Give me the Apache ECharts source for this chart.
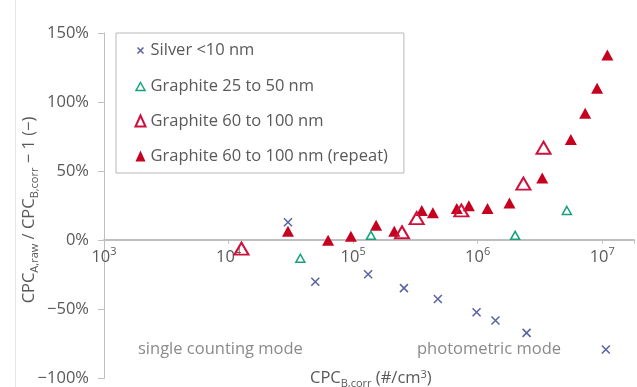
<!DOCTYPE html>
<html>
<head>
<meta charset="utf-8">
<script src="https://cdn.jsdelivr.net/npm/echarts@6/dist/echarts.min.js"></script>
<style>
  html, body { margin: 0; padding: 0; background: #fff; }
  #chart { width: 637px; height: 387px; }
</style>
</head>
<body>
<div id="chart"></div>
<script>
// Concentration measured by CPC B (#/cm3) and relative deviation of CPC A (%)
const silverX = [3.0e4, 4.97e4, 1.32e5, 2.56e5, 4.79e5, 9.8e5, 1.39e6, 2.47e6, 1.07e7];
const silverY = [13, -30, -24.5, -34.6, -42.5, -52, -58, -67, -79];

const g2550X = [3.77e4, 1.39e5, 2.0e6, 5.2e6];
const g2550Y = [-13, 3.6, 3.6, 21.6];

const g60100X = [1.27e4, 2.47e5, 3.24e5, 7.4e5, 2.33e6, 3.38e6];
const g60100Y = [-6, 5.8, 16, 21.6, 41, 67];

const g60100rX = [3.0e4, 6.3e4, 9.6e4, 1.53e5, 2.14e5, 3.56e5, 4.37e5, 6.8e5, 8.5e5, 1.2e6, 1.8e6, 3.3e6, 5.6e6, 7.3e6, 9.1e6, 1.1e7];
const g60100rY = [6.5, 0, 3, 10.8, 6.5, 21.6, 20, 23, 25, 23, 27, 45, 73, 92, 110, 134];

const seriesNames = ['Silver <10 nm', 'Graphite 25 to 50 nm', 'Graphite 60 to 100 nm', 'Graphite 60 to 100 nm (repeat)'];
const yTicks = [-100, -50, 0, 50, 100, 150];

const FONT = 'Open Sans';
const FS = 16.5;
const TEXT = '#595959';
const AXIS = '#bfbfbf';
const C_SILVER = '#5763a3';
const C_GREEN = '#17a27c';
const C_RED_O = '#d0103c';
const C_RED_F = '#c6001f';

const pairs = (xs, ys) => xs.map((x, i) => [x, ys[i]]);

const crossPath = 'path://M0,0L10,10M10,0L0,10';

// plot area
const GRID = { left: 104, right: 2, top: 33, bottom: 7 };
const plotH = 387 - GRID.top - GRID.bottom;
const yMin = yTicks[0], yMax = yTicks[yTicks.length - 1];
// the horizontal axis crosses the vertical one at 0 %
const xAxisOffset = -plotH * (0 - yMin) / (yMax - yMin);

const chart = echarts.init(document.getElementById('chart'), null, { renderer: 'canvas' });

chart.setOption({
  animation: false,
  backgroundColor: '#ffffff',
  textStyle: { fontFamily: FONT },
  grid: GRID,
  legend: {
    orient: 'vertical',
    left: 116,
    top: 33,
    padding: [8, 16, 8, 17],
    itemGap: 18,
    itemWidth: 10,
    itemHeight: 14,
    borderColor: '#b8b8b8',
    borderWidth: 1,
    backgroundColor: '#ffffff',
    textStyle: { fontFamily: FONT, fontSize: FS, color: TEXT },
    data: [
      { name: seriesNames[0], icon: 'path://M0,0M10,14M2,4L8,10M8,4L2,10',
        itemStyle: { color: 'none', borderColor: C_SILVER, borderWidth: 1.5 } },
      { name: seriesNames[1], icon: 'path://M0,0M10,14M5,3L9.5,11L0.5,11Z',
        itemStyle: { color: '#fff', borderColor: C_GREEN, borderWidth: 1.5 } },
      { name: seriesNames[2], icon: 'path://M0,0M10,14M5,1L10,12L0,12Z',
        itemStyle: { color: '#fff', borderColor: C_RED_O, borderWidth: 2 } },
      { name: seriesNames[3], icon: 'path://M0,0M10,14M5,1L10,12L0,12Z',
        itemStyle: { color: C_RED_F, borderWidth: 0 } }
    ]
  },
  xAxis: {
    type: 'log',
    logBase: 10,
    min: 1e3,
    max: 1.8e7,
    interval: 1,
    position: 'bottom',
    offset: xAxisOffset,
    axisLine: { onZero: false, lineStyle: { color: AXIS, width: 2 } },
    axisTick: { show: true, inside: false, length: 4, lineStyle: { color: AXIS } },
    splitLine: { show: false },
    axisLabel: {
      margin: 7,
      color: TEXT,
      fontSize: FS,
      fontFamily: FONT,
      formatter: function (v) {
        const e = Math.log10(v);
        if (Math.abs(e - Math.round(e)) > 1e-6) return '';
        return '{b|10}{s|' + Math.round(e) + '}';
      },
      rich: {
        b: { fontSize: FS, color: TEXT, fontFamily: FONT, lineHeight: 19, verticalAlign: 'bottom' },
        s: { fontSize: 11, color: TEXT, fontFamily: FONT, lineHeight: 19, verticalAlign: 'top' }
      }
    }
  },
  yAxis: {
    type: 'value',
    min: yMin,
    max: yMax,
    interval: 50,
    axisLine: { show: true, onZero: false, lineStyle: { color: AXIS, width: 1 } },
    axisTick: { show: true, length: 6, lineStyle: { color: AXIS } },
    splitLine: { show: false },
    axisLabel: {
      margin: 15,
      color: TEXT,
      fontSize: FS,
      fontFamily: FONT,
      formatter: v => (v < 0 ? '\u2212' : '') + Math.abs(v) + '%'
    }
  },
  graphic: [
    { type: 'line', shape: { x1: 15.5, y1: 0, x2: 15.5, y2: 387 }, style: { stroke: '#e6e6e6', lineWidth: 1 }, z: -1 },
    { type: 'text', left: 138, top: 341,
      style: { text: 'single counting mode', fill: '#8a8a8a', fontSize: FS, fontFamily: FONT } },
    { type: 'text', left: 417, top: 341,
      style: { text: 'photometric mode', fill: '#8a8a8a', fontSize: FS, fontFamily: FONT } },
    { type: 'text', left: 310, top: 367,
      style: {
        text: '{m|CPC}{s|B,corr}{m| (#/cm}{u|3}{m|)}',
        rich: {
          m: { fontSize: FS, fill: TEXT, fontFamily: FONT, lineHeight: 22, verticalAlign: 'middle' },
          s: { fontSize: 11, fill: TEXT, fontFamily: FONT, lineHeight: 22, verticalAlign: 'bottom' },
          u: { fontSize: 11, fill: TEXT, fontFamily: FONT, lineHeight: 22, verticalAlign: 'top', padding: [2, 0, 0, 0] }
        }
      } },
    { type: 'text', x: 29, y: 210, rotation: Math.PI / 2,
      style: {
        text: '{m|CPC}{s|A,raw}{m| / CPC}{s|B,corr}{m| \u2212 1 (\u2212)}',
        align: 'center', verticalAlign: 'middle',
        rich: {
          m: { fontSize: FS, fill: TEXT, fontFamily: FONT, lineHeight: 22, verticalAlign: 'middle' },
          s: { fontSize: 11, fill: TEXT, fontFamily: FONT, lineHeight: 22, verticalAlign: 'bottom' }
        }
      } }
  ],
  series: [
    {
      name: seriesNames[0], type: 'scatter', data: pairs(silverX, silverY),
      symbol: crossPath, symbolSize: 8,
      itemStyle: { color: 'none', borderColor: C_SILVER, borderWidth: 1.5, opacity: 1 }, z: 3
    },
    {
      name: seriesNames[1], type: 'scatter', data: pairs(g2550X, g2550Y),
      symbol: 'triangle', symbolSize: [9, 8],
      itemStyle: { color: '#fff', borderColor: C_GREEN, borderWidth: 1.5, opacity: 1 }, z: 3
    },
    {
      name: seriesNames[2], type: 'scatter', data: pairs(g60100X, g60100Y),
      symbol: 'triangle', symbolSize: [14, 12],
      itemStyle: { color: 'rgba(255,255,255,0)', borderColor: C_RED_O, borderWidth: 2, opacity: 1 }, z: 4
    },
    {
      name: seriesNames[3], type: 'scatter', data: pairs(g60100rX, g60100rY),
      symbol: 'triangle', symbolSize: [12, 11],
      itemStyle: { color: C_RED_F, opacity: 1 }, z: 2
    }
  ]
});
</script>
</body>
</html>
